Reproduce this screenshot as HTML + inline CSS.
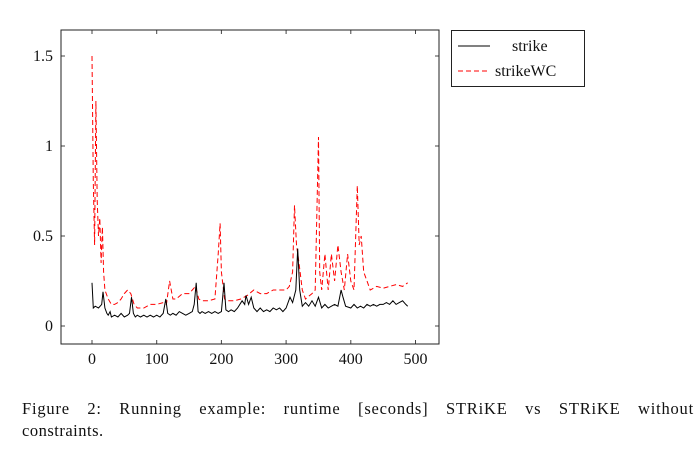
<!DOCTYPE html>
<html><head><meta charset="utf-8"><style>
body{margin:0;background:#fff;width:698px;height:470px;overflow:hidden;font-family:"Liberation Serif",serif}
#cap{position:absolute;left:22px;top:397px;width:672px;font-size:16.5px;line-height:24px;color:#111;text-align:justify;text-align-last:justify;letter-spacing:0.8px}
#cap2{position:absolute;left:22px;top:421px;font-size:16.5px;color:#111;letter-spacing:0.5px}
</style></head><body>
<svg id="chart" width="698" height="470" style="position:absolute;left:0;top:0" font-family="Liberation Serif, serif"></svg>
<div id="cap">Figure 2: Running example: runtime [seconds] STRiKE vs STRiKE without</div>
<div id="cap2">constraints.</div>
<script>
const strikeX=[0,2,5,10,15,17,20,23,25,28,30,35,40,45,50,55,58,61,64,67,70,75,80,85,90,95,100,105,110,114,117,121,125,130,135,140,145,150,155,158,161,164,167,170,175,180,185,190,195,200,204,207,211,215,220,225,232,236,238,242,246,250,255,260,265,270,275,280,285,290,295,300,306,310,315,318,321,325,330,335,340,345,350,355,360,365,370,375,380,385,388,392,400,405,410,415,420,425,430,435,440,445,450,455,460,465,470,475,480,485,488];
const strikeY=[0.24,0.1,0.11,0.1,0.12,0.19,0.1,0.07,0.06,0.08,0.05,0.06,0.05,0.07,0.05,0.06,0.07,0.16,0.07,0.05,0.06,0.05,0.06,0.05,0.06,0.05,0.06,0.05,0.07,0.15,0.07,0.06,0.07,0.06,0.08,0.07,0.06,0.07,0.08,0.12,0.24,0.08,0.07,0.08,0.07,0.08,0.07,0.08,0.07,0.08,0.24,0.09,0.08,0.09,0.08,0.1,0.14,0.12,0.17,0.12,0.16,0.1,0.08,0.1,0.08,0.09,0.08,0.1,0.09,0.1,0.08,0.1,0.16,0.13,0.2,0.43,0.2,0.11,0.13,0.11,0.14,0.11,0.16,0.1,0.12,0.1,0.11,0.12,0.11,0.2,0.16,0.11,0.1,0.12,0.1,0.11,0.1,0.12,0.11,0.12,0.11,0.12,0.12,0.13,0.12,0.14,0.12,0.13,0.14,0.12,0.11];
const wcX=[0,2,4,6,8,10,12,14,16,18,20,25,30,35,40,45,50,55,60,65,70,80,90,100,110,115,120,125,130,140,150,155,160,165,170,180,190,195,198,200,205,210,220,230,240,250,260,270,280,290,300,305,310,313,316,320,325,330,340,345,350,352,355,360,365,370,375,380,385,390,395,400,405,410,413,416,420,425,430,440,450,460,470,480,488];
const wcY=[1.5,0.8,0.45,1.25,0.7,0.5,0.6,0.35,0.55,0.3,0.2,0.15,0.12,0.12,0.13,0.15,0.18,0.2,0.18,0.12,0.1,0.1,0.12,0.12,0.13,0.12,0.25,0.15,0.15,0.18,0.18,0.2,0.22,0.15,0.14,0.14,0.15,0.4,0.57,0.3,0.15,0.14,0.14,0.15,0.17,0.2,0.18,0.18,0.2,0.2,0.2,0.22,0.3,0.67,0.45,0.35,0.2,0.15,0.18,0.2,1.05,0.3,0.2,0.4,0.2,0.4,0.25,0.45,0.3,0.2,0.4,0.25,0.2,0.78,0.45,0.5,0.3,0.25,0.2,0.22,0.21,0.22,0.23,0.22,0.24];
const xTicks=[0,100,200,300,400,500];
const yTicks=[0,0.5,1,1.5];
const yTickLabels=["0","0.5","1","1.5"];
const svg=document.getElementById('chart');
const NS='http://www.w3.org/2000/svg';
const L=61,R=439,T=30,B=344;
const sx=v=>92+v*0.647, sy=v=>326-v*180;
function mk(tag,attrs){const e=document.createElementNS(NS,tag);for(const k in attrs)e.setAttribute(k,attrs[k]);svg.appendChild(e);return e;}
let e;
xTicks.forEach(t=>{
 e=mk('line',{x1:sx(t),x2:sx(t),y1:B,y2:B-4,stroke:'#444'});
 
 
 e=mk('line',{x1:sx(t),x2:sx(t),y1:T,y2:T+4,stroke:'#444'});
 
 
 e=mk('text',{x:sx(t),y:B+20,'text-anchor':'middle','font-size':16,fill:'#111'});e.textContent=t;
 
 
});
yTicks.forEach((t,i)=>{
 e=mk('line',{x1:L,x2:L+4,y1:sy(t),y2:sy(t),stroke:'#444'});
 
 
 e=mk('line',{x1:R,x2:R-4,y1:sy(t),y2:sy(t),stroke:'#444'});
 
 
 e=mk('text',{x:L-8,y:sy(t)+5,'text-anchor':'end','font-size':16,fill:'#111'});e.textContent=yTickLabels[i];
 
 
});
const pts=(xs,ys)=>xs.map((x,i)=>sx(x).toFixed(1)+','+sy(ys[i]).toFixed(1)).join(' ');
e=mk('polyline',{points:pts(wcX,wcY),fill:'none',stroke:'#f00','stroke-width':1,'stroke-dasharray':'5,3'});


e=mk('polyline',{points:pts(strikeX,strikeY),fill:'none',stroke:'#000','stroke-width':1});


e=mk('rect',{x:L,y:T,width:R-L,height:B-T,fill:'none',stroke:'#222','stroke-width':1});


e=mk('rect',{x:451.5,y:30.5,width:133,height:56,fill:'#fff',stroke:'#222'});


e=mk('line',{x1:458,x2:490,y1:46,y2:46,stroke:'#000'});


e=mk('text',{x:512,y:51,'font-size':16,fill:'#111'});e.textContent='strike';


e=mk('line',{x1:458,x2:490,y1:71,y2:71,stroke:'#f00','stroke-dasharray':'5,3'});


e=mk('text',{x:495,y:76,'font-size':16,fill:'#111'});e.textContent='strikeWC';


</script>
</body></html>
